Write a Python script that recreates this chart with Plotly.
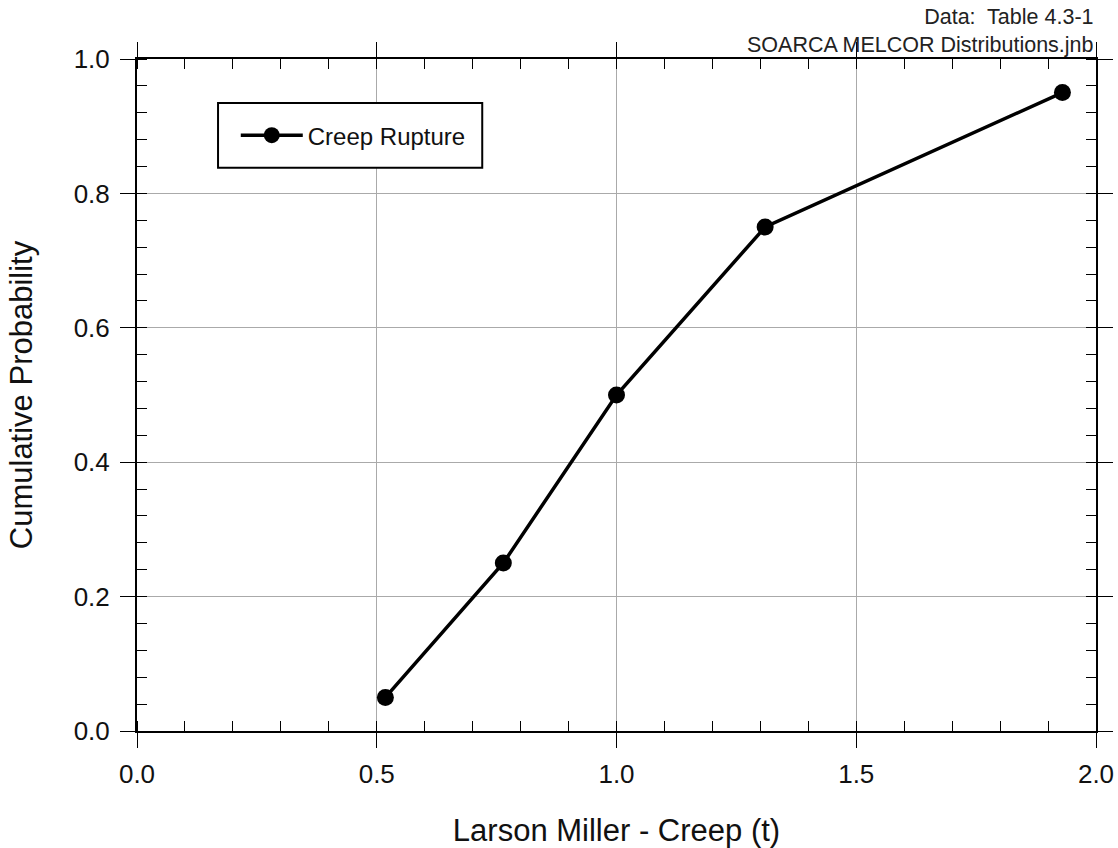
import plotly.graph_objects as go

# Larson Miller creep rupture distribution
larson_miller = [0.518, 0.764, 1.0, 1.31, 1.93]
cum_prob = [0.05, 0.25, 0.50, 0.75, 0.95]

FONT = "Liberation Sans, Arial"

fig = go.Figure(go.Scatter(
    x=larson_miller,
    y=cum_prob,
    mode="lines+markers",
    name="Creep Rupture",
    line=dict(color="black", width=3.5),
    marker=dict(color="black", size=17),
))

axis_common = dict(
    automargin=False,
    showline=True,
    linecolor="black",
    linewidth=2,
    mirror="ticks",
    ticks="outside",
    ticklen=15,
    tickcolor="black",
    tickwidth=1,
    showgrid=True,
    gridcolor="#aaaaaa",
    gridwidth=1,
    zeroline=False,
    ticklabeloverflow="allow",
    tickfont=dict(family=FONT, size=26, color="#111"),
)

fig.update_xaxes(
    range=[0, 2],
    dtick=0.5,
    tickformat=".1f",
    ticklabelstandoff=4,
    minor=dict(dtick=0.1, ticks="inside", ticklen=10, tickcolor="black", showgrid=False),
    title=dict(text="Larson Miller - Creep (t)",
               font=dict(family=FONT, size=31, color="#111"),
               standoff=31),
    **axis_common,
)
fig.update_yaxes(
    range=[0, 1],
    dtick=0.2,
    tickformat=".1f",
    ticklabelstandoff=5,
    minor=dict(dtick=0.04, ticks="inside", ticklen=10, tickcolor="black", showgrid=False),
    title=dict(text="Cumulative Probability",
               font=dict(family=FONT, size=31, color="#111"),
               standoff=32),
    **axis_common,
)

fig.add_annotation(
    x=1, y=1, xref="paper", yref="paper", xanchor="right", yanchor="bottom",
    text="Data:  Table 4.3-1<br>SOARCA MELCOR Distributions.jnb",
    showarrow=False, align="right", yshift=0, xshift=0,
    font=dict(family=FONT, size=21.5, color="#222"),
)

# legend frame
fig.add_shape(
    type="rect", xref="paper", yref="paper",
    x0=0.0845, x1=0.36, y0=0.838, y1=0.9345,
    line=dict(color="black", width=2), fillcolor="white", layer="above",
)

fig.update_layout(
    plot_bgcolor="white",
    paper_bgcolor="white",
    margin=dict(l=137, r=22, t=59, b=117),
    showlegend=True,
    legend=dict(
        x=0.103, y=0.886, xanchor="left", yanchor="middle",
        borderwidth=0, bgcolor="rgba(0,0,0,0)",
        font=dict(family=FONT, size=24, color="#111"),
        itemwidth=62,
    ),
    font=dict(family=FONT),
)

# drop the page margin so the figure fills the whole window
post = ("document.documentElement.style.height='100%';"
        "document.body.style.margin='0';document.body.style.height='100%';"
        "Plotly.Plots.resize(document.getElementById('{plot_id}'));")

fig.write_html("out.html", post_script=post, config={"displayModeBar": False})
